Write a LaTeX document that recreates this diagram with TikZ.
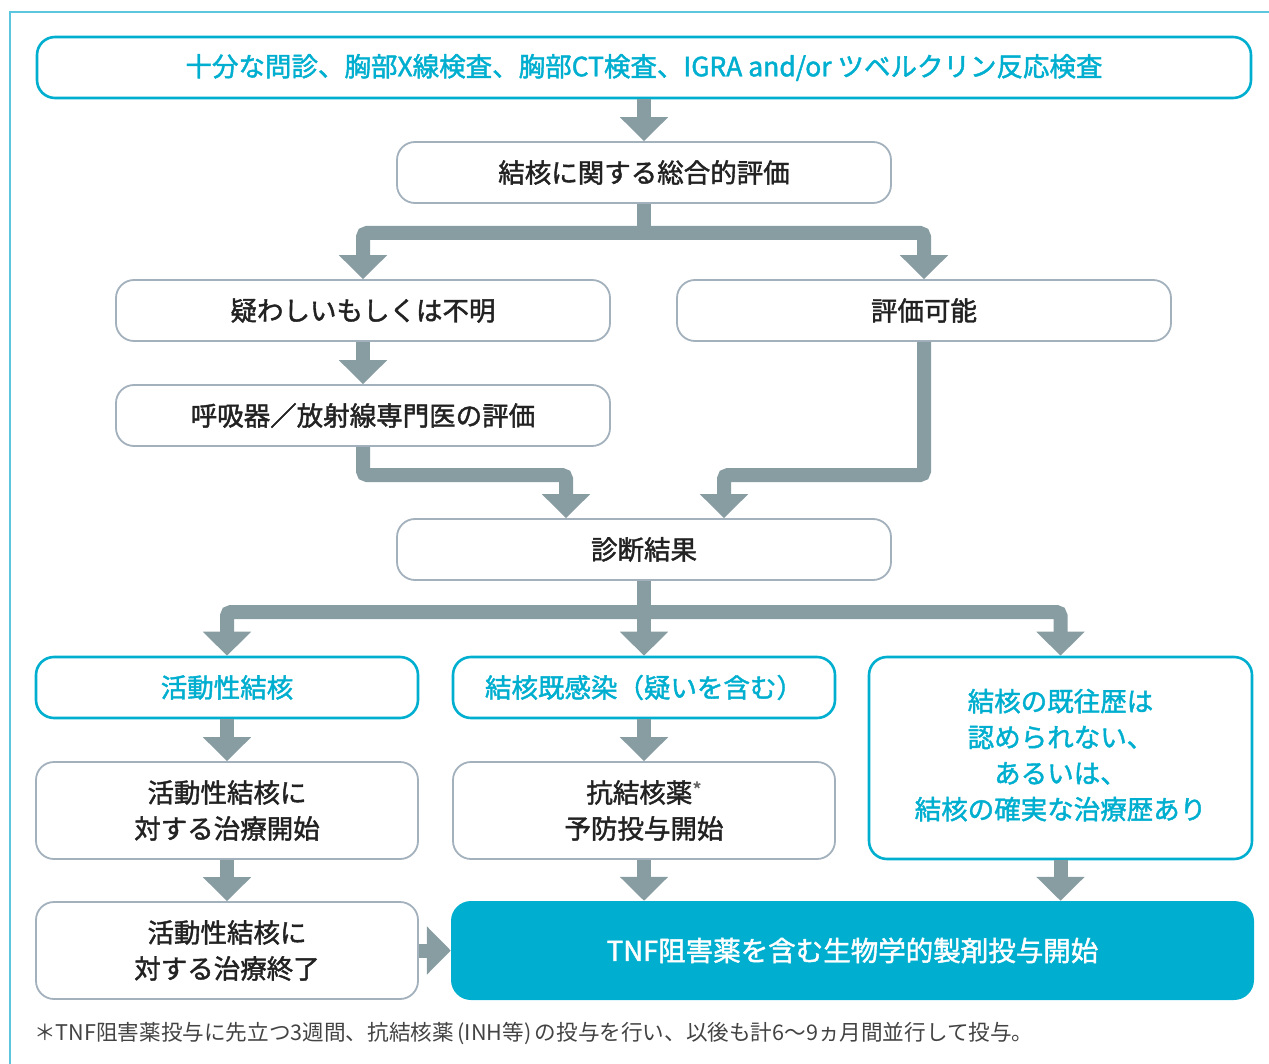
\documentclass[tikz,border=0pt]{standalone}
\usepackage{fontspec}
\setmainfont{Noto Sans CJK JP}
\newfontfamily\jpmed{Noto Sans CJK JP}[FakeBold=1.6]
\usetikzlibrary{arrows.meta}
\definecolor{cy}{HTML}{00AFCF}
\definecolor{gb}{HTML}{A3B1BD}
\definecolor{ag}{HTML}{889DA2}
\definecolor{fr}{HTML}{5BC6DE}
\definecolor{tx}{HTML}{222222}
\begin{document}
\begin{tikzpicture}[x=1pt,y=-1pt,
  bfont/.style={font=\fontsize{26.5}{36}\selectfont\jpmed},
  cbox/.style={draw=cy, line width=2.6pt, rounded corners=18pt, fill=white, text=cy, bfont, align=center, inner sep=0pt},
  gbox/.style={draw=gb, line width=1.8pt, rounded corners=18pt, fill=white, text=tx, bfont, align=center, inner sep=0pt},
  fbox/.style={fill=cy, rounded corners=20pt, text=white, font=\fontsize{27.5}{36}\selectfont\jpmed, align=center, inner sep=0pt},
  arr/.style={draw=ag, line width=14pt, rounded corners=4pt, -{Triangle[width=47pt,length=24pt]}},
  shaft/.style={draw=ag, line width=14pt},
  frame/.style={draw=fr, line width=1.5pt}
]
\useasboundingbox (0,0) rectangle (1269,1064);
\draw[frame] (1269,12) -- (10,12) -- (10,1064);

\node[cbox, minimum width=1214pt, minimum height=61pt] (top) at (644,67.5)
  {十分な問診、胸部X線検査、胸部CT検査、IGRA and/or ツベルクリン反応検査};
\node[gbox, minimum width=494pt, minimum height=61pt] (b2) at (644,172.5) {結核に関する総合的評価};
\node[gbox, minimum width=494pt, minimum height=61pt] (b3) at (363,310.5) {疑わしいもしくは不明};
\node[gbox, minimum width=494pt, minimum height=61pt] (b4) at (924,310.5) {評価可能};
\node[gbox, minimum width=494pt, minimum height=61pt] (b5) at (363,415.5) {呼吸器／放射線専門医の評価};
\node[gbox, minimum width=494pt, minimum height=61pt] (b6) at (644,549.5) {診断結果};
\node[cbox, minimum width=382pt, minimum height=61pt] (b7) at (227,687.5) {活動性結核};
\node[cbox, minimum width=382pt, minimum height=61pt] (b8) at (644,687.5) {結核既感染（疑いを含む）};
\node[cbox, minimum width=383pt, minimum height=202pt] (b9) at (1060.5,758)
  {\raisebox{3pt}{\begin{tabular}{@{}c@{}}結核の既往歴は\\認められない、\\あるいは、\\結核の確実な治療歴あり\end{tabular}}};
\node[gbox, minimum width=382pt, minimum height=97pt] (b10) at (227,810.5) {活動性結核に\\対する治療開始};
\node[gbox, minimum width=382pt, minimum height=97pt] (b11) at (644,810.5)
  {抗結核薬{\fontsize{20}{20}\selectfont\color{tx!70}\raisebox{5pt}{*}}\\予防投与開始};
\node[gbox, minimum width=382pt, minimum height=97pt] (b12) at (227,950.5) {活動性結核に\\対する治療終了};
\node[fbox, minimum width=803pt, minimum height=99pt] (b13) at (852.5,950.5) {TNF阻害薬を含む生物学的製剤投与開始};
\node[anchor=west, inner sep=0pt, text=tx!85, font=\fontsize{21.6}{24}\selectfont] (note) at (34,1033)
  {＊TNF阻害薬投与に先立つ3週間、抗結核薬\,(INH等)\,の投与を行い、以後も計6〜9ヵ月間並行して投与。};

\coordinate (j1) at (644,233);
\coordinate (j2) at (644,612);
\coordinate (k1) at (566,475);
\coordinate (k2) at (724,475);

\draw[arr] (top.south) -- (b2.north);
\draw[shaft] (b2.south) -- (j1);
\draw[arr] (j1) -| (b3.north);
\draw[arr] (j1) -| (b4.north);
\draw[arr] (b3.south) -- (b5.north);
\draw[arr] (b5.south) |- (k1) -- (k1 |- b6.north);
\draw[arr] (b4.south) |- (k2) -- (k2 |- b6.north);
\draw[shaft] (b6.south) -- (j2);
\draw[arr] (j2) -| (b7.north);
\draw[arr] (j2) -- (b8.north);
\draw[arr] (j2) -| (b9.north);
\draw[arr] (b7.south) -- (b10.north);
\draw[arr] (b8.south) -- (b11.north);
\draw[arr] (b10.south) -- (b12.north);
\draw[arr] (b11.south) -- (b11.south |- b13.north);
\draw[arr] (b9.south) -- (b9.south |- b13.north);
\draw[arr] (b12.east) -- (b13.west);
\end{tikzpicture}
\end{document}
